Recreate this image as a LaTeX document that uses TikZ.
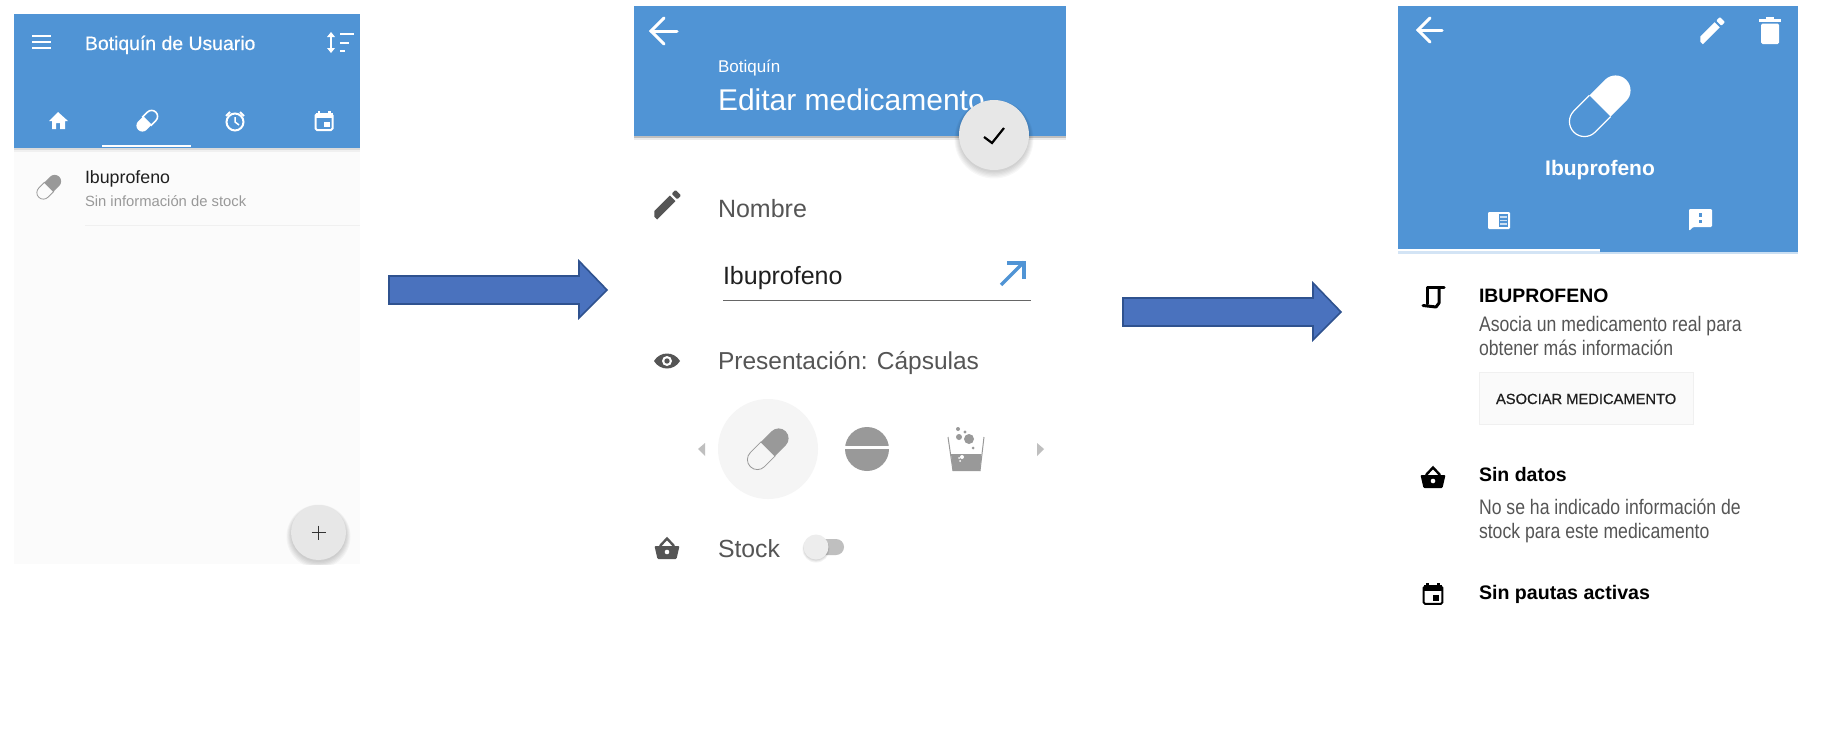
\documentclass[tikz,border=0pt]{standalone}
\usepackage{fontspec}
\setmainfont{Liberation Sans}
\newfontfamily\mediumfont[FakeBold=0.5]{Liberation Sans}
\newfontfamily\narrowfont[FakeStretch=0.84]{Liberation Sans}
\definecolor{headblue}{HTML}{5094D5}
\definecolor{arrowfill}{HTML}{4A72BE}
\definecolor{arrowline}{HTML}{2F528F}
\definecolor{iconGrey}{HTML}{555555}
\definecolor{pillGrey}{HTML}{999999}
\definecolor{fabGrey}{HTML}{E7E7E7}
\definecolor{listGrey}{HTML}{FBFBFB}
\tikzset{
  lbl/.style={anchor=base west, inner sep=0pt, outer sep=0pt},
  blockarrow/.style={fill=arrowfill, draw=arrowline, line width=1.6pt, miter limit=10},
  wline/.style={draw=white, line width=3pt},
}
% capsule: x, y, half length, radius, rotation, colour, inner colour, line width
\newcommand{\pillicon}[8]{
  \begin{scope}[shift={(#1,#2)}, rotate=#5, x=1pt, y=1pt]
    \draw[draw=#6, fill=#7, line width=#8] (0,-#4) -- (-#3,-#4) arc (270:90:#4) -- (0,#4) -- cycle;
    \fill[#6] (0,-#4) -- (#3,-#4) arc (-90:90:#4) -- (0,#4) -- cycle;
  \end{scope}
}
% calendar: x, y, scale, colour
\newcommand{\calicon}[4]{
  \begin{scope}[shift={(#1,#2)}, scale=#3]
    \draw[draw=#4, line width=2pt, rounded corners=1.5pt] (-8.5,-7) rectangle (8.5,9);
    \fill[#4] (-8.5,-8) rectangle (8.5,-3);
    \fill[#4] (-6.5,-10) rectangle (-4,-7);
    \fill[#4] (4,-10) rectangle (6.5,-7);
    \fill[#4] (0,1) rectangle (5.5,6);
  \end{scope}
}
% basket: x, y, colour, inner colour
\newcommand{\basketicon}[4]{
  \begin{scope}[shift={(#1,#2)}]
    \draw[draw=#3, line width=2.4pt] (-7,-2) -- (0,-9.5) -- (7,-2);
    \fill[#3, rounded corners=1pt] (-12.5,-2) -- (12.5,-2) -- (9.5,11) -- (-9.5,11) -- cycle;
    \fill[#4] (0,4) circle (2.3);
  \end{scope}
}
% pencil: x, y, scale, colour
\newcommand{\pencilicon}[4]{
  \begin{scope}[shift={(#1,#2)}, rotate=45, x=1pt, y=1pt, scale=#3]
    \fill[#4] (-18,-4) -- (-18,0) -- (-14,4) -- (8,4) -- (8,-4) -- cycle;
    \fill[#4, rounded corners=1pt] (10.5,-4) rectangle (16,4);
  \end{scope}
}
% back arrow: x of tip, y, length, head size
\newcommand{\backicon}[4]{
  \draw[wline, line cap=round] (#1,#2) -- ++(#3,0);
  \draw[wline, line cap=round, line join=miter] (#1+#4,#2-#4) -- (#1,#2) -- (#1+#4,#2+#4);
}
% soft round shadow below a button: x, y, radius
\newcommand{\softshadow}[3]{
  \foreach \k in {0,1,2,3,4,5}
    \fill[black, opacity=0.03] (#1,#2+2+\k*0.4) circle (#3+\k*0.9);
}
\begin{document}
\begin{tikzpicture}[x=1pt, y=-1pt]
\useasboundingbox (0,0) rectangle (1840,744);
\fill[white] (0,0) rectangle (1840,744);

% First screen: the list
\fill[listGrey] (14,14) rectangle (360,564);
\fill[black!14] (14,148) rectangle (360,150);
\fill[black!6] (14,150) rectangle (360,152);
\fill[headblue] (14,14) rectangle (360,148);
\foreach \yy in {36,42,48} \draw[draw=white, line width=2pt] (32,\yy) -- (51,\yy);
\node[lbl, text=white, font=\mediumfont\fontsize{19.4}{23}\selectfont] (listtitle) at (85,50) {Botiquín de Usuario};
\draw[draw=white, line width=2.2pt] (331,35) -- (331,50);
\fill[white] (331,32) -- (335,37) -- (327,37) -- cycle;
\fill[white] (331,53) -- (335,48) -- (327,48) -- cycle;
\draw[draw=white, line width=2.2pt] (340,34) -- (354,34);
\draw[draw=white, line width=2.2pt] (340,43) -- (349,43);
\draw[draw=white, line width=2.2pt] (340,51) -- (345,51);
% tab icons
\fill[white] (58,112) -- (68,121) -- (65,121) -- (65,129) -- (60,129) -- (60,123) -- (56,123) -- (56,129) -- (52,129) -- (52,121) -- (49,121) -- cycle;
\pillicon{147}{121}{6.5}{6}{225}{white}{headblue}{1.6pt}
\draw[draw=white, line width=2pt] (235,122) circle (8.5);
\draw[draw=white, line width=1.5pt] (235,117) -- (235,122) -- (239,125);
\draw[draw=white, line width=1.8pt] (226,116) -- (230,112);
\draw[draw=white, line width=1.8pt] (244,116) -- (240,112);
\calicon{324}{121}{1}{white}
\fill[white] (102,145) rectangle (191,147);
% list item
\pillicon{49}{187}{8}{6.5}{45}{pillGrey}{listGrey}{0.8pt}
\node[lbl, text=black!88, font=\fontsize{17.8}{21}\selectfont] (listname) at (85,183) {Ibuprofeno};
\node[lbl, text=black!40, font=\fontsize{14.8}{18}\selectfont] (liststock) at (85,206) {Sin información de stock};
\draw[draw=black!6, line width=1pt] (85,225) -- (360,225);
% add button
\begin{scope}
\clip (14,14) rectangle (360,564);
\softshadow{318.5}{532.5}{27.5}
\end{scope}
\fill[fabGrey] (318.5,532.5) circle (27.5);
\draw[draw=black!80, line width=1.6pt] (311.5,532.5) -- (325.5,532.5);
\draw[draw=black!80, line width=1.6pt] (318.5,525.5) -- (318.5,539.5);

% Block arrows
\draw[blockarrow] (389,276) -- (579,276) -- (579,261) -- (607,290) -- (579,318) -- (579,304) -- (389,304) -- cycle;
\draw[blockarrow] (1123,298) -- (1313,298) -- (1313,283) -- (1341,312) -- (1313,340) -- (1313,326) -- (1123,326) -- cycle;

% Second screen: the edit form
\fill[black!25] (634,136) rectangle (1066,138);
\fill[black!8] (634,138) rectangle (1066,140);
\fill[headblue] (634,6) rectangle (1066,136);
\backicon{651}{31}{26}{13}
\node[lbl, text=white, font=\fontsize{17}{20}\selectfont] (edithead) at (718,72.5) {Botiquín};
\node[lbl, text=white, font=\fontsize{30}{34}\selectfont] (edittitle) at (718,110) {Editar medicamento};
\softshadow{994}{135}{35}
\fill[fabGrey] (994,135) circle (35);
\draw[draw=black, line width=2.2pt] (984,137) -- (992,143) -- (1004,128);
\pencilicon{667}{204}{1}{iconGrey}
\node[lbl, text=iconGrey, font=\fontsize{25}{30}\selectfont] (namelabel) at (718,217.5) {Nombre};
\node[lbl, text=black!88, font=\fontsize{25}{30}\selectfont] (namefield) at (723,284) {Ibuprofeno};
\draw[draw=black!60, line width=1pt] (723,300) -- (1031,300);
\draw[draw=headblue, line width=3.4pt] (1001,285) -- (1024,262);
\draw[draw=headblue, line width=3.4pt] (1007,263) -- (1024,263) -- (1024,279);
% eye
\fill[iconGrey] (654,361) .. controls (660,351) and (674,351) .. (680,361) .. controls (674,371) and (660,371) .. cycle;
\fill[white] (667,361) circle (5);
\fill[iconGrey] (667,361) circle (2.7);
\node[lbl, text=iconGrey, font=\fontsize{24.5}{30}\selectfont] (formlabel) at (718,369) {Presentación: Cápsulas};
% form chooser
\fill[black!4] (768,449) circle (50);
\pillicon{768}{449}{15}{10}{45}{pillGrey}{black!4}{0.8pt}
\fill[pillGrey] (867,449) circle (22);
\draw[draw=white, line width=2.2pt] (844,447.5) -- (890,447.5);
\draw[draw=pillGrey, line width=1pt] (948,437) -- (953,471);
\draw[draw=pillGrey, line width=1pt] (984,437) -- (980,471);
\fill[pillGrey] (951,454) -- (981.5,454) -- (980,471) -- (953,471) -- cycle;
\fill[pillGrey] (969,439) circle (5);
\fill[pillGrey] (959,437) circle (3);
\fill[pillGrey] (958,429) circle (2);
\fill[pillGrey] (965,432) circle (1.7);
\fill[pillGrey] (973,448) circle (1.5);
\fill[white] (962,457) circle (2);
\fill[white] (959,458) circle (1);
\fill[white] (960,461) circle (1);
\fill[black!25] (698,449) -- (705,443) -- (705,456) -- cycle;
\fill[black!25] (1044,449) -- (1037,443) -- (1037,456) -- cycle;
% stock row
\basketicon{667}{548}{iconGrey}{white}
\node[lbl, text=iconGrey, font=\fontsize{24.8}{30}\selectfont] (stocklabel) at (718,557) {Stock};
\fill[black!25, rounded corners=8pt] (816,539) rectangle (844,555);
\foreach \k in {0,1,2} \fill[black, opacity=0.05] (816,548+\k*0.5) circle (12.5+\k*0.5);
\fill[black!7] (816,547) circle (12.5);

% Third screen: the detail
\fill[headblue!30] (1398,252) rectangle (1798,254);
\fill[headblue] (1398,6) rectangle (1798,252);
\fill[white] (1398,249) rectangle (1600,251);
\fill[white!75!headblue] (1398,251) rectangle (1600,254);
\backicon{1418}{30}{24}{12}
\pencilicon{1712}{30}{0.92}{white}
\fill[white] (1759,19) rectangle (1781,21.5);
\fill[white] (1766,17) rectangle (1774,19);
\fill[white, rounded corners=1.5pt] (1761,23.5) rectangle (1779,44);
\begin{scope}[shift={(1600,106)}, rotate=45, x=1pt, y=1pt]
\draw[draw=white, line width=1.2pt] (0,-15) -- (-22,-15) arc (270:90:15) -- (0,15);
\fill[white] (0,-15) -- (22,-15) arc (-90:90:15) -- (0,15) -- cycle;
\end{scope}
\node[lbl, anchor=base, text=white, font=\bfseries\fontsize{21}{25}\selectfont] (detailname) at (1600,175) {Ibuprofeno};
\fill[white, rounded corners=1.2pt] (1488,212) rectangle (1510,229);
\fill[headblue] (1499,214) rectangle (1508,227);
\foreach \yy in {217,220.5,224} \draw[draw=white!70!headblue, line width=1.4pt] (1500,\yy) -- (1507,\yy);
\fill[white, rounded corners=1.2pt] (1689,231) -- (1689,209) -- (1712,209) -- (1712,227) -- (1693,227) -- cycle;
\fill[headblue] (1699.3,213) rectangle (1701.7,217);
\fill[headblue] (1699.3,220) rectangle (1701.7,223);
% detail rows
\draw[draw=black, line width=3pt, line join=round, line cap=round] (1444,287) -- (1427,287) -- (1427,304);
\draw[draw=black, line width=3pt, line join=round, line cap=round] (1423,305.5) -- (1436,307) -- (1439,303) -- (1439,288);
\node[lbl, text=black, font=\bfseries\fontsize{19.4}{23}\selectfont] (realname) at (1479,302) {IBUPROFENO};
\node[lbl, text=iconGrey, font=\narrowfont\fontsize{21}{24}\selectfont] (realone) at (1479,331) {Asocia un medicamento real para};
\node[lbl, text=iconGrey, font=\narrowfont\fontsize{21}{24}\selectfont] (realtwo) at (1479,355) {obtener más información};
\draw[draw=black!6, fill=black!2, line width=1pt] (1479,372) rectangle (1693,424);
\node[lbl, text=black!88, font=\mediumfont\fontsize{14.7}{18}\selectfont] (assocbutton) at (1496,404) {ASOCIAR MEDICAMENTO};
\basketicon{1433}{477}{black}{white}
\node[lbl, text=black, font=\bfseries\fontsize{19.5}{23}\selectfont] (stockhead) at (1479,481) {Sin datos};
\node[lbl, text=iconGrey, font=\narrowfont\fontsize{21}{24}\selectfont] (stockone) at (1479,514) {No se ha indicado información de};
\node[lbl, text=iconGrey, font=\narrowfont\fontsize{21}{24}\selectfont] (stocktwo) at (1479,538) {stock para este medicamento};
\calicon{1433}{594}{1.1}{black}
\node[lbl, text=black, font=\bfseries\fontsize{19.6}{23}\selectfont] (planhead) at (1479,599) {Sin pautas activas};
\end{tikzpicture}
\end{document}
